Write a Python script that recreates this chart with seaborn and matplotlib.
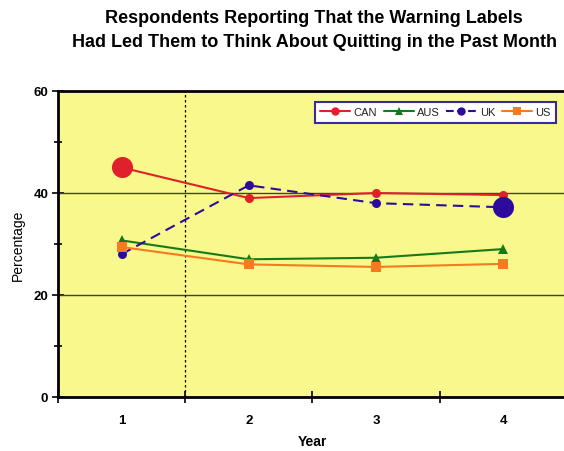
import matplotlib
matplotlib.use("Agg")
import matplotlib.pyplot as plt
import seaborn as sns
import pandas as pd
from matplotlib.lines import Line2D
from matplotlib.ticker import FixedLocator, NullFormatter

years = ["1", "2", "3", "4"]
can = [45.0, 39.0, 40.0, 39.6]
aus = [30.7, 27.0, 27.3, 29.0]
uk = [28.0, 41.5, 38.0, 37.2]
us = [29.4, 26.0, 25.5, 26.1]

series = ["CAN", "AUS", "UK", "US"]
colors = {"CAN": "#E0202A", "AUS": "#177A1A", "UK": "#2C0C9C", "US": "#F57A20"}
markers = {"CAN": "o", "AUS": "^", "UK": "o", "US": "s"}

df = pd.DataFrame({
    "pos": list(range(len(years))) * 4,
    "value": can + aus + uk + us,
    "country": sum([[s] * len(years) for s in series], []),
})

sns.set_style("white")
plt.rcParams["font.family"] = ["Liberation Sans", "DejaVu Sans"]
plt.rcParams["text.color"] = "black"
plt.rcParams["axes.labelcolor"] = "black"
plt.rcParams["xtick.color"] = "black"
plt.rcParams["ytick.color"] = "black"

fig = plt.figure(figsize=(5.64, 4.52), dpi=100)
ax = fig.add_axes([0.1028, 0.1195, 0.902, 0.677])
ax.set_facecolor("#F8F88C")

for s in series:
    sub = df[df["country"] == s]
    sns.lineplot(data=sub, x="pos", y="value", ax=ax, color=colors[s],
                 marker=markers[s], markersize=6.5 if markers[s] != "^" else 7,
                 markeredgewidth=0, linewidth=1.5, legend=False,
                 linestyle="--" if s == "UK" else "-")
    if s == "UK":
        ax.lines[-1].set_dashes((5, 3))

# emphasised endpoints
ax.scatter([0], [can[0]], s=230, color=colors["CAN"], zorder=5, linewidths=0)
ax.scatter([3], [uk[3]], s=230, color=colors["UK"], zorder=5, linewidths=0)

# reference lines
for yv in (20, 40):
    ax.axhline(yv, color="#404040", linewidth=1.0, zorder=1)
ax.axvline(0.5, color="black", linestyle=(0, (2, 2)), linewidth=0.9, zorder=1)

ax.set_xlim(-0.5, 3.5)
ax.set_ylim(0, 60)
ax.set_yticks([0, 20, 40, 60])
ax.yaxis.set_minor_locator(FixedLocator([10, 30, 50]))
ax.set_yticklabels(["0", "20", "40", "60"], fontweight="bold", fontsize=9.5)
ax.tick_params(axis="y", which="major", direction="inout", length=8, width=1.2, left=True, pad=3)
ax.tick_params(axis="y", which="minor", direction="inout", length=6, width=1.2, left=True)

ax.xaxis.set_major_locator(FixedLocator([-0.5, 0.5, 1.5, 2.5, 3.5]))
ax.xaxis.set_major_formatter(NullFormatter())
ax.xaxis.set_minor_locator(FixedLocator([0, 1, 2, 3]))
ax.set_xticklabels(years, minor=True, fontweight="bold", fontsize=9.5)
ax.tick_params(axis="x", which="major", direction="inout", length=8, width=1.2, bottom=True)
ax.tick_params(axis="x", which="minor", length=0, pad=12)

for side in ("left", "bottom", "top"):
    ax.spines[side].set_visible(True)
    ax.spines[side].set_color("black")
    ax.spines[side].set_linewidth(2.0)
ax.spines["right"].set_visible(False)

ax.set_xlabel("Year", fontweight="bold", fontsize=10, labelpad=6)
ax.set_ylabel("Percentage", fontsize=10, labelpad=6)

handles = [Line2D([0], [0], color=colors[s], marker=markers[s],
                  markersize=6, markeredgewidth=0, linewidth=1.5,
                  linestyle="--" if s == "UK" else "-") for s in series]
leg = ax.legend(handles, series, ncol=4, loc="upper right",
                bbox_to_anchor=(0.99, 0.983), fontsize=8,
                frameon=True, fancybox=False, handlelength=2.7,
                columnspacing=0.6, handletextpad=0.3, borderpad=0.5)
leg.get_frame().set_edgecolor("#3A2AA0")
leg.get_frame().set_linewidth(1.5)
leg.get_frame().set_facecolor("white")
leg.get_frame().set_alpha(1)
for t in leg.get_texts():
    t.set_color("#222222")

fig.text(0.557, 0.958, "Respondents Reporting That the Warning Labels",
         ha="center", va="center", fontsize=13, fontweight="bold", color="black")
fig.text(0.557, 0.905, "Had Led Them to Think About Quitting in the Past Month",
         ha="center", va="center", fontsize=13, fontweight="bold", color="black")

fig.savefig("out.png", dpi=100, facecolor="white")
